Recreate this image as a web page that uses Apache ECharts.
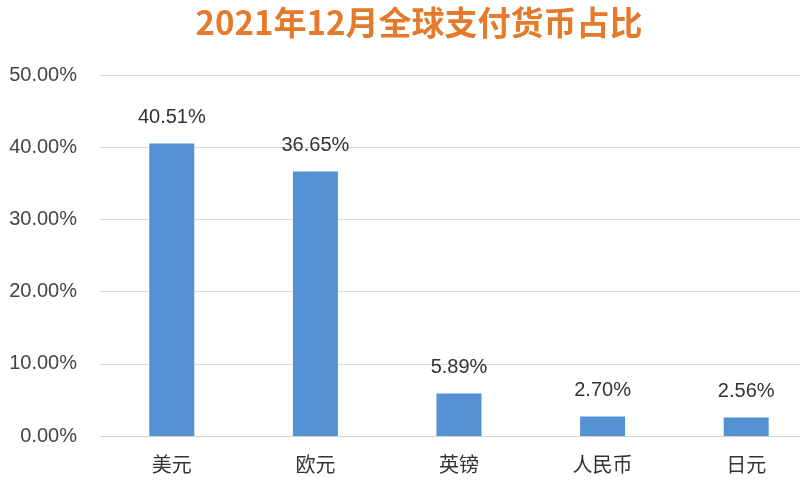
<!DOCTYPE html>
<html>
<head>
<meta charset="utf-8">
<script src="https://cdn.jsdelivr.net/npm/echarts@6/dist/echarts.min.js"></script>
<style>
html,body{margin:0;padding:0;background:#fff;overflow:hidden;width:800px;height:492px;}
#chart{width:818px;height:492px;}
</style>
</head>
<body>
<div id="chart"></div>
<script>
const title = '2021年12月全球支付货币占比';
const categories = ['美元', '欧元', '英镑', '人民币', '日元'];
const shares = [40.51, 36.65, 5.89, 2.70, 2.56];
const yMin = 0, yMax = 50, yStep = 10;

const chart = echarts.init(document.getElementById('chart'), null, {renderer: 'canvas'});
chart.setOption({
  backgroundColor: '#ffffff',
  animation: false,
  title: {
    text: title,
    left: 414,
    textAlign: 'center',
    top: 1,
    textStyle: {
      color: '#E57A2C',
      fontSize: 33,
      fontWeight: 'bold',
      fontFamily: '"Noto Sans CJK SC", "Liberation Sans", sans-serif'
    }
  },
  grid: {left: 100, right: 0, top: 75, bottom: 56, containLabel: false},
  xAxis: {
    type: 'category',
    data: categories,
    axisTick: {show: false},
    axisLine: {show: true, lineStyle: {color: '#d4d4d4', width: 1}},
    axisLabel: {
      color: '#333333',
      fontSize: 20,
      margin: 18,
      fontFamily: '"Noto Sans CJK SC", sans-serif'
    }
  },
  yAxis: {
    type: 'value',
    min: yMin,
    max: yMax,
    interval: yStep,
    axisLine: {show: false},
    axisTick: {show: false},
    splitLine: {lineStyle: {color: '#d9d9d9', width: 1}},
    axisLabel: {
      color: '#444444',
      fontSize: 20,
      margin: 23,
      fontFamily: '"Liberation Sans", Arial, sans-serif',
      formatter: v => v.toFixed(2) + '%'
    }
  },
  series: [{
    type: 'bar',
    data: shares,
    barWidth: 45,
    itemStyle: {color: '#5592D2'},
    label: {
      show: true,
      position: 'top',
      distance: 16,
      color: '#333333',
      fontSize: 20,
      fontFamily: '"Liberation Sans", Arial, sans-serif',
      formatter: p => p.value.toFixed(2) + '%'
    }
  }]
});
</script>
</body>
</html>
